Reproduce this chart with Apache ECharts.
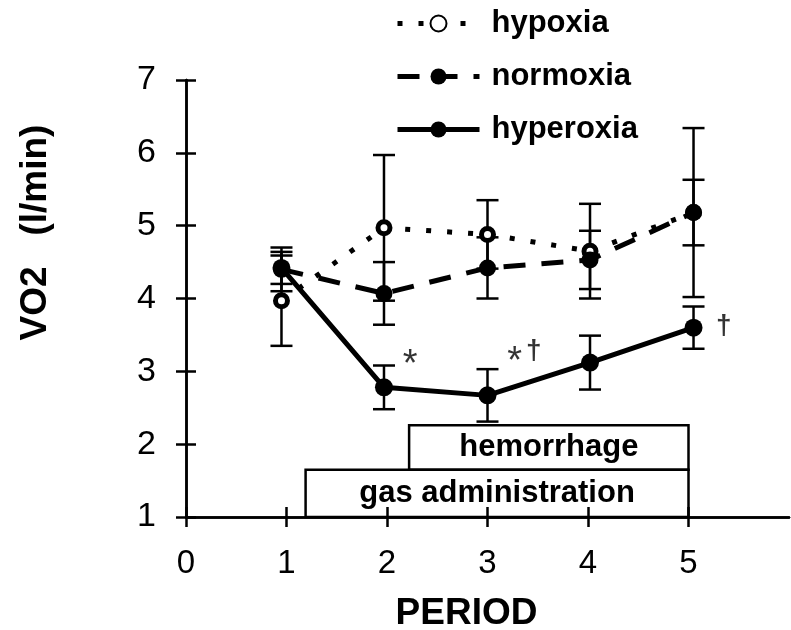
<!DOCTYPE html>
<html>
<head>
<meta charset="utf-8">
<script src="https://cdn.jsdelivr.net/npm/echarts@6/dist/echarts.min.js"></script>
<style>
  html, body { margin: 0; padding: 0; background: #fff; }
  #chart { width: 791px; height: 630px; }
</style>
</head>
<body>
<div id="chart"></div>
<script>
// period positions as plotted (points sit slightly off the ticks)
var periodX = [0.95, 1.97, 3.0, 4.02, 5.05];

var hypoxiaMean = [3.97, 4.97, 4.88, 4.65, 5.18];
var hypoxiaErr = [0.62, 1.0, 0.47, 0.65, 1.16];
var normoxiaMean = [4.4, 4.07, 4.42, 4.53, 5.18];
var normoxiaErr = [0.3, 0.43, 0.42, 0.4, 0.45];
var hyperoxiaMean = [4.42, 2.78, 2.67, 3.12, 3.6];
var hyperoxiaErr = [0.22, 0.3, 0.36, 0.37, 0.29];

var xTicks = [0, 1, 2, 3, 4, 5];

// significance marks: [x, y, text]
var sigMarks = [
  [2.23, 3.08, '*'],
  [3.27, 3.12, '*'],
  [3.46, 3.27, '†'],
  [5.35, 3.62, '†']
];

// protocol boxes: [x0, y0, x1, y1]
var phaseBoxes = [
  [1.19, 1, 5, 1.65],
  [2.22, 1.65, 5, 2.26]
];
var phaseLabels = ['gas administration', 'hemorrhage'];

var FONT = '"Liberation Sans", Arial, Helvetica, sans-serif';

function pts(mean) {
  return mean.map(function (v, i) { return [periodX[i], v]; });
}
function bars(mean, err) {
  return mean.map(function (v, i) { return [periodX[i], v - err[i], v + err[i]]; });
}

function renderErr(params, api) {
  var x = api.value(0);
  var lo = api.coord([x, api.value(1)]);
  var hi = api.coord([x, api.value(2)]);
  var hw = 11;
  var st = { stroke: '#000', lineWidth: 2.5 };
  return {
    type: 'group',
    children: [
      { type: 'line', shape: { x1: lo[0], y1: lo[1], x2: hi[0], y2: hi[1] }, style: st },
      { type: 'line', shape: { x1: lo[0] - hw, y1: lo[1], x2: lo[0] + hw, y2: lo[1] }, style: st },
      { type: 'line', shape: { x1: hi[0] - hw, y1: hi[1], x2: hi[0] + hw, y2: hi[1] }, style: st }
    ]
  };
}

function renderBox(params, api) {
  var p0 = api.coord([api.value(0), api.value(1)]);
  var p1 = api.coord([api.value(2), api.value(3)]);
  return {
    type: 'group',
    children: [
      {
        type: 'rect',
        shape: { x: p0[0], y: p1[1], width: p1[0] - p0[0], height: p0[1] - p1[1] },
        style: { fill: 'none', stroke: '#000', lineWidth: 2.5 }
      },
      {
        type: 'text',
        x: (p0[0] + p1[0]) / 2,
        y: (p0[1] + p1[1]) / 2,
        style: {
          text: phaseLabels[params.dataIndex],
          fill: '#000',
          fontFamily: FONT,
          fontSize: 31,
          fontWeight: 'bold',
          align: 'center',
          verticalAlign: 'middle'
        }
      }
    ]
  };
}

function errSeries(mean, err) {
  return {
    type: 'custom',
    renderItem: renderErr,
    data: bars(mean, err),
    encode: { x: 0, y: [1, 2] },
    z: 1,
    silent: true
  };
}

var chart = echarts.init(document.getElementById('chart'));

var axisLineStyle = { color: '#000', width: 2.5 };
var gridBox = { left: 186, right: 2, top: 80, bottom: 113, outerBoundsMode: 'none', containLabel: false };

chart.setOption({
  animation: false,
  backgroundColor: '#fff',
  textStyle: { fontFamily: FONT, color: '#000' },
  // grid 1 is the same rectangle, only used for the inward half of the crossing ticks
  grid: [gridBox, gridBox],
  legend: {
    orient: 'vertical',
    left: 390,
    top: 2,
    itemWidth: 82,
    itemHeight: 20,
    itemGap: 20,
    lineStyle: { width: 5 },
    data: ['hypoxia', 'normoxia', 'hyperoxia'],
    textStyle: { fontFamily: FONT, fontSize: 31, fontWeight: 'bold', color: '#000', lineHeight: 33, padding: [0, 0, 0, 7] }
  },
  xAxis: [
    {
      type: 'value',
      gridIndex: 0,
      min: 0, max: 6, interval: 1,
      name: 'PERIOD',
      nameLocation: 'middle',
      nameGap: 78,
      nameTextStyle: { fontFamily: FONT, fontSize: 37, fontWeight: 'bold', color: '#000', padding: [0, 42, 0, 0] },
      axisLine: { show: true, lineStyle: axisLineStyle },
      axisTick: { show: true, inside: false, length: 10, lineStyle: axisLineStyle, customValues: xTicks },
      axisLabel: { fontFamily: FONT, fontSize: 33, color: '#000', margin: 30, customValues: xTicks },
      splitLine: { show: false },
      zlevel: 1
    },
    {
      type: 'value',
      gridIndex: 1,
      min: 0, max: 6, interval: 1,
      position: 'bottom',
      axisLine: { show: true, lineStyle: axisLineStyle },
      axisTick: { show: true, inside: true, length: 10, lineStyle: axisLineStyle, customValues: xTicks },
      axisLabel: { show: false },
      splitLine: { show: false },
      zlevel: 1
    }
  ],
  yAxis: [
    {
      type: 'value',
      gridIndex: 0,
      min: 1, max: 7, interval: 1,
      name: 'VO2   (l/min)',
      nameLocation: 'middle',
      nameGap: 132,
      nameRotate: 90,
      nameTextStyle: { fontFamily: FONT, fontSize: 37, fontWeight: 'bold', color: '#000', padding: [0, 0, 0, 132] },
      axisLine: { show: true, lineStyle: axisLineStyle },
      axisTick: { show: true, inside: false, length: 10, lineStyle: axisLineStyle },
      axisLabel: { fontFamily: FONT, fontSize: 34, color: '#000', margin: 30 },
      splitLine: { show: false },
      zlevel: 1
    },
    {
      type: 'value',
      gridIndex: 1,
      min: 1, max: 7, interval: 1,
      position: 'left',
      axisLine: { show: true, lineStyle: axisLineStyle },
      axisTick: { show: true, inside: true, length: 10, lineStyle: axisLineStyle },
      axisLabel: { show: false },
      splitLine: { show: false },
      zlevel: 1
    }
  ],
  series: [
    {
      name: 'boxes',
      type: 'custom',
      renderItem: renderBox,
      data: phaseBoxes,
      encode: { x: [0, 2], y: [1, 3] },
      silent: true,
      z: 0
    },
    errSeries(hypoxiaMean, hypoxiaErr),
    errSeries(normoxiaMean, normoxiaErr),
    errSeries(hyperoxiaMean, hyperoxiaErr),
    {
      name: 'hypoxia',
      type: 'line',
      data: pts(hypoxiaMean),
      symbol: 'circle',
      symbolSize: 12,
      itemStyle: { color: '#fff', borderColor: '#000', borderWidth: 5 },
      lineStyle: { color: '#000', width: 5, type: [5, 16], cap: 'butt' },
      z: 4
    },
    {
      name: 'normoxia',
      type: 'line',
      data: pts(normoxiaMean),
      symbol: 'circle',
      symbolSize: 17,
      itemStyle: { color: '#000', borderColor: '#000', borderWidth: 0 },
      lineStyle: { color: '#000', width: 5, type: [22, 16], cap: 'butt' },
      z: 4
    },
    {
      name: 'hyperoxia',
      type: 'line',
      data: pts(hyperoxiaMean),
      symbol: 'circle',
      symbolSize: 18,
      itemStyle: { color: '#000', borderColor: '#000', borderWidth: 0 },
      lineStyle: { color: '#000', width: 5 },
      z: 5
    },
    {
      name: 'marks',
      type: 'scatter',
      symbol: 'circle',
      symbolSize: 1,
      itemStyle: { color: 'rgba(0,0,0,0)' },
      silent: true,
      data: sigMarks.map(function (m) { return { value: [m[0], m[1]], name: m[2] }; }),
      label: {
        show: true,
        position: 'inside',
        formatter: function (p) {
          return p.name === '*' ? '{ast|*}' : '{dag|' + p.name + '}';
        },
        rich: {
          ast: { fontFamily: FONT, fontSize: 38, color: '#000' },
          dag: { fontFamily: FONT, fontSize: 28, fontWeight: 'bold', color: '#000' }
        }
      },
      z: 6
    }
  ]
});
</script>
</body>
</html>
